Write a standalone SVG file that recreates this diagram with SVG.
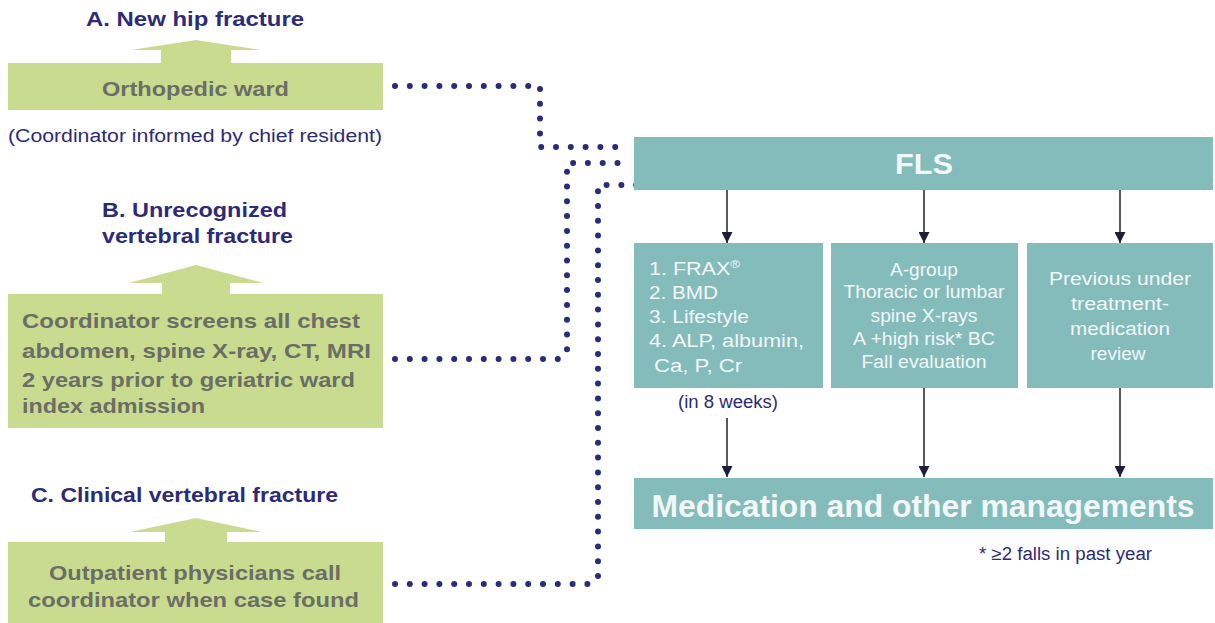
<svg xmlns="http://www.w3.org/2000/svg" width="1215" height="623" viewBox="0 0 1215 623">
<style>
.green{fill:#c9db8e}
.teal{fill:#84bcbc}
.title{font-family:"Liberation Sans",Arial,sans-serif;font-weight:bold;font-size:21px;fill:#2d2a78}
.gtxt{font-family:"Liberation Sans",Arial,sans-serif;font-weight:bold;font-size:21px;fill:#6b6e66}
.note{font-family:"Liberation Sans",Arial,sans-serif;font-size:18px;fill:#2d2a78}
.wtxt{font-family:"Liberation Sans",Arial,sans-serif;font-size:18px;fill:#f2f7f7}
.mid{text-anchor:middle}
.big{font-family:"Liberation Sans",Arial,sans-serif;font-weight:bold;fill:#f2f7f7;text-anchor:middle}
.dots{fill:none;stroke:#2b2a7c;stroke-width:6;stroke-linecap:round;stroke-dasharray:0 14.8}
.arr{stroke:#222;stroke-width:1.5;fill:none;marker-end:url(#ah)}
</style>
<defs>
<marker id="ah" viewBox="0 0 10 10" refX="10" refY="5" markerWidth="11" markerHeight="11" markerUnits="userSpaceOnUse" orient="auto">
<path d="M0,0 L10,5 L0,10 z" fill="#1e1e3a"/>
</marker>
</defs>
<rect width="1215" height="623" fill="#ffffff"/>

<g id="nodeA">
<text class="title" x="86" y="26" textLength="218" lengthAdjust="spacingAndGlyphs">A. New hip fracture</text>
<polygon class="green" points="131,50 196,40 261,50 231,50 231,63 161,63 161,50"/>
<rect class="green" x="8" y="63" width="375" height="47"/>
<text class="gtxt" x="102" y="96" textLength="187" lengthAdjust="spacingAndGlyphs">Orthopedic ward</text>
<text class="note" x="8" y="142" textLength="374" lengthAdjust="spacingAndGlyphs">(Coordinator informed by chief resident)</text>
</g>

<g id="nodeB">
<text class="title" x="102" y="217" textLength="185" lengthAdjust="spacingAndGlyphs">B. Unrecognized</text>
<text class="title" x="102" y="243" textLength="191" lengthAdjust="spacingAndGlyphs">vertebral fracture</text>
<polygon class="green" points="129,283 196,265 263,283 230,283 230,294 162,294 162,283"/>
<rect class="green" x="8" y="294" width="375" height="134"/>
<text class="gtxt" x="22" y="328" textLength="338" lengthAdjust="spacingAndGlyphs">Coordinator screens all chest</text>
<text class="gtxt" x="22" y="358" textLength="349" lengthAdjust="spacingAndGlyphs">abdomen, spine X-ray, CT, MRI</text>
<text class="gtxt" x="22" y="387" textLength="333" lengthAdjust="spacingAndGlyphs">2 years prior to geriatric ward</text>
<text class="gtxt" x="22" y="413" textLength="183" lengthAdjust="spacingAndGlyphs">index admission</text>
</g>

<g id="nodeC">
<text class="title" x="31" y="502" textLength="307" lengthAdjust="spacingAndGlyphs">C. Clinical vertebral fracture</text>
<polygon class="green" points="130,532 196,518 262,532 227,532 227,542 165,542 165,532"/>
<rect class="green" x="8" y="542" width="375" height="81"/>
<text class="gtxt" x="49" y="580" textLength="292" lengthAdjust="spacingAndGlyphs">Outpatient physicians call</text>
<text class="gtxt" x="28" y="607" textLength="331" lengthAdjust="spacingAndGlyphs">coordinator when case found</text>
</g>

<g id="connectors">
<polyline class="dots" points="395,86 540,86 540,147 628,147"/>
<polyline class="dots" points="395,359 560,359 567,352 567,163 627,163"/>
<polyline class="dots" points="395,584 591,584 598,578 598,185 643,185"/>
<line class="arr" x1="727" y1="190" x2="727" y2="243"/>
<line class="arr" x1="924" y1="190" x2="924" y2="243"/>
<line class="arr" x1="1120" y1="190" x2="1120" y2="243"/>
<line class="arr" x1="727" y1="418" x2="727" y2="477"/>
<line class="arr" x1="924" y1="388" x2="924" y2="477"/>
<line class="arr" x1="1120" y1="388" x2="1120" y2="477"/>
</g>

<g id="fls">
<rect class="teal" x="634" y="137" width="579" height="53"/>
<text class="big" x="924" y="174" font-size="29" textLength="58" lengthAdjust="spacingAndGlyphs">FLS</text>
</g>

<g id="box1">
<rect class="teal" x="634" y="243" width="189" height="145"/>
<text class="wtxt" x="649" y="275" textLength="91" lengthAdjust="spacingAndGlyphs">1. FRAX<tspan font-size="11" dy="-7">®</tspan></text>
<text class="wtxt" x="649" y="299" textLength="69" lengthAdjust="spacingAndGlyphs">2. BMD</text>
<text class="wtxt" x="649" y="323" textLength="100" lengthAdjust="spacingAndGlyphs">3. Lifestyle</text>
<text class="wtxt" x="649" y="347" textLength="155" lengthAdjust="spacingAndGlyphs">4. ALP, albumin,</text>
<text class="wtxt" x="654" y="372" textLength="88" lengthAdjust="spacingAndGlyphs">Ca, P, Cr</text>
<text class="note mid" x="728" y="408" font-size="17" textLength="100" lengthAdjust="spacingAndGlyphs">(in 8 weeks)</text>
</g>

<g id="box2">
<rect class="teal" x="831" y="243" width="187" height="145"/>
<text class="wtxt mid" font-size="17" x="924" y="276" textLength="68" lengthAdjust="spacingAndGlyphs">A-group</text>
<text class="wtxt mid" font-size="17" x="924" y="298" textLength="161" lengthAdjust="spacingAndGlyphs">Thoracic or lumbar</text>
<text class="wtxt mid" font-size="17" x="924" y="322" textLength="107" lengthAdjust="spacingAndGlyphs">spine X-rays</text>
<text class="wtxt mid" font-size="17" x="924" y="345" textLength="142" lengthAdjust="spacingAndGlyphs">A +high risk* BC</text>
<text class="wtxt mid" font-size="17" x="924" y="368" textLength="125" lengthAdjust="spacingAndGlyphs">Fall evaluation</text>
</g>

<g id="box3">
<rect class="teal" x="1027" y="243" width="186" height="145"/>
<text class="wtxt mid" font-size="19" x="1120" y="285" textLength="142" lengthAdjust="spacingAndGlyphs">Previous under</text>
<text class="wtxt mid" font-size="19" x="1120" y="310" textLength="98" lengthAdjust="spacingAndGlyphs">treatment-</text>
<text class="wtxt mid" font-size="19" x="1120" y="335" textLength="100" lengthAdjust="spacingAndGlyphs">medication</text>
<text class="wtxt mid" font-size="19" x="1118" y="360" textLength="55" lengthAdjust="spacingAndGlyphs">review</text>
</g>

<g id="mgmt">
<rect class="teal" x="634" y="478" width="579" height="51"/>
<text class="big" x="923" y="517" font-size="32" textLength="543" lengthAdjust="spacingAndGlyphs">Medication and other managements</text>
<text class="note" x="979" y="560" font-size="17" textLength="173" lengthAdjust="spacingAndGlyphs">* ≥2 falls in past year</text>
</g>
</svg>
